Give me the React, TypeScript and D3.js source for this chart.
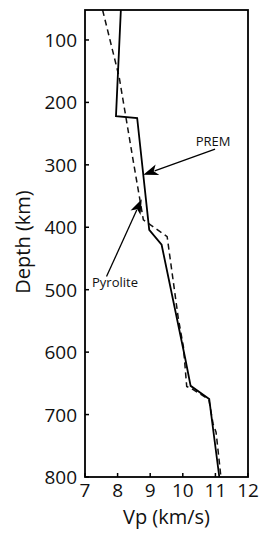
import React from 'react';
import * as d3 from 'd3';

// depth (km) / Vp (km/s)
const premDepth = [52, 222, 225, 404, 428, 609, 654, 675, 800];
const premVp = [8.1, 7.95, 8.6, 8.97, 9.35, 10.07, 10.24, 10.81, 11.12];

const pyroliteDepth = [52, 160, 300, 388, 415, 545, 592, 655, 660, 676, 715, 728, 800];
const pyroliteVp = [7.54, 8.05, 8.5, 8.79, 9.52, 9.86, 10.02, 10.12, 10.32, 10.8, 10.93, 11.02, 11.17];

const xTicks = [7, 8, 9, 10, 11, 12];
const yTicks = [100, 200, 300, 400, 500, 600, 700, 800];

// annotation arrows: [vp, depth] tail -> tip, plus label anchor
const premArrow = { tail: [10.99, 275], tip: [8.79, 316], label: [10.93, 270], text: 'PREM' };
const pyroliteArrow = { tail: [7.66, 479], tip: [8.74, 355], label: [7.92, 495], text: 'Pyrolite' };

const W = 262;
const H = 534;
const left = 85, right = 248, top = 10, bottom = 477;
const FONT = "'Open Sans', sans-serif";

const x = d3.scaleLinear().domain([7, 12]).range([left, right]);
const y = d3.scaleLinear().domain([52, 800]).range([top, bottom]);

const line = d3.line<[number, number]>()
  .x(d => x(d[1]))
  .y(d => y(d[0]));

const zip = (a: number[], b: number[]) => a.map((v, i) => [v, b[i]] as [number, number]);

// notched arrowhead at tip, pointing away from tail
function arrowHead(tx: number, ty: number, px: number, py: number) {
  const dx = px - tx, dy = py - ty;
  const len = Math.hypot(dx, dy);
  const ux = dx / len, uy = dy / len;
  const nx = -uy, ny = ux;
  const L = 15, hw = 5.5, notch = 11;
  const b1 = [tx + ux * L + nx * hw, ty + uy * L + ny * hw];
  const b2 = [tx + ux * L - nx * hw, ty + uy * L - ny * hw];
  const n = [tx + ux * notch, ty + uy * notch];
  return `M${tx},${ty}L${b1[0]},${b1[1]}L${n[0]},${n[1]}L${b2[0]},${b2[1]}Z`;
}

function Arrow({ a, anchor }: { a: typeof premArrow; anchor: string }) {
  const tx = x(a.tip[0]), ty = y(a.tip[1]);
  const sx = x(a.tail[0]), sy = y(a.tail[1]);
  const dx = sx - tx, dy = sy - ty;
  const len = Math.hypot(dx, dy);
  const ex = tx + (dx / len) * 12, ey = ty + (dy / len) * 12;
  return (
    <g>
      <line x1={sx} y1={sy} x2={ex} y2={ey} stroke="#000" strokeWidth={1.3} />
      <path d={arrowHead(tx, ty, sx, sy)} fill="#000" />
      <text x={x(a.label[0])} y={y(a.label[1])} textAnchor={anchor} fontSize={13} fontFamily={FONT} fill="#111">{a.text}</text>
    </g>
  );
}

export default function App() {
  return (
    <svg width={W} height={H} style={{ position: 'absolute', left: 0, top: 0, background: '#fff' }}>
      <rect x={0} y={0} width={W} height={H} fill="#fff" />
      <path d={line(zip(pyroliteDepth, pyroliteVp)) || ''} fill="none" stroke="#111" strokeWidth={1.5} strokeDasharray="6,4" />
      <path d={line(zip(premDepth, premVp)) || ''} fill="none" stroke="#000" strokeWidth={1.8} strokeLinejoin="miter" />
      {/* frame */}
      <rect x={left} y={top} width={right - left} height={bottom - top} fill="none" stroke="#000" strokeWidth={1.8} />
      {/* inward ticks */}
      {yTicks.map(t => (
        <g key={'y' + t}>
          <line x1={left} x2={left + 4} y1={y(t)} y2={y(t)} stroke="#000" strokeWidth={1.5} />
          <text x={left - 8} y={y(t) + 7} textAnchor="end" fontSize={19} fontFamily={FONT} fill="#111">{t}</text>
        </g>
      ))}
      {xTicks.map(t => (
        <g key={'x' + t}>
          <line x1={x(t)} x2={x(t)} y1={bottom} y2={bottom - 4} stroke="#000" strokeWidth={1.5} />
          <text x={x(t)} y={bottom + 20} textAnchor="middle" fontSize={19} fontFamily={FONT} fill="#111">{t}</text>
        </g>
      ))}
      <text x={(left + right) / 2} y={524} textAnchor="middle" fontSize={20} fontFamily={FONT} fill="#111">Vp (km/s)</text>
      <text transform={`translate(30,${242}) rotate(-90)`} textAnchor="middle" fontSize={20} fontFamily={FONT} fill="#111">Depth (km)</text>
      <Arrow a={premArrow} anchor="middle" />
      <Arrow a={pyroliteArrow} anchor="middle" />
    </svg>
  );
}
